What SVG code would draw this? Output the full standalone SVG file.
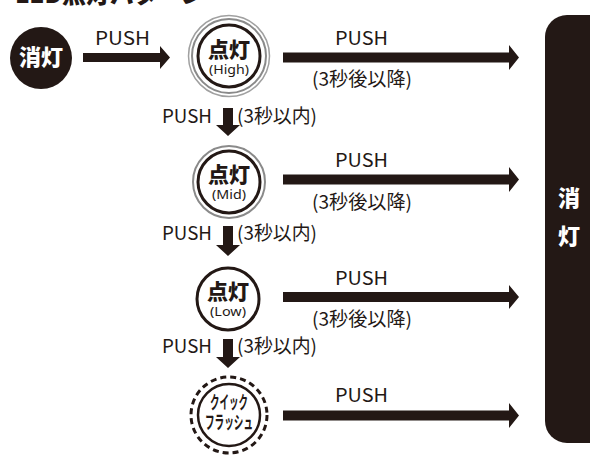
<svg xmlns="http://www.w3.org/2000/svg" width="590" height="466" viewBox="0 0 590 466">
<style>
.lbl{font-family:"Noto Sans CJK JP","Noto Sans",sans-serif;font-size:19px;fill:#231815;font-weight:400}
.kan{font-family:"Noto Sans CJK JP",sans-serif;font-weight:900;fill:#231815;font-size:21px;text-anchor:middle}
.sub{font-family:"Noto Sans","Liberation Sans",sans-serif;font-size:12.5px;fill:#231815;text-anchor:middle}
.wk{font-family:"Noto Sans CJK JP",sans-serif;font-weight:900;fill:#fff;text-anchor:middle}
.ring{fill:#fff;stroke:#231815;stroke-width:3}
.arr{fill:#231815}
.qf{font-family:"Noto Sans CJK JP",sans-serif;font-weight:700;font-size:18px;fill:#231815;text-anchor:middle}
</style>
<rect width="590" height="466" fill="#fff"/>
<text x="15" y="3" font-family="'Noto Sans CJK JP',sans-serif" font-weight="900" font-size="24" fill="#231815">LED点灯パターン</text>

<g id="off">
<circle cx="41" cy="58" r="31" fill="#231815"/>
<text class="wk" x="41" y="65" font-size="22">消灯</text>
</g>

<g id="high">
<circle cx="229" cy="56" r="40.5" fill="#fff" stroke="#a0a0a0" stroke-width="1.5"/>
<circle cx="229" cy="56" r="37" fill="none" stroke="#8a8a8a" stroke-width="2"/>
<circle class="ring" cx="229" cy="56" r="31"/>
<text class="kan" x="229" y="57">点灯</text>
<text class="sub" x="229" y="74" textLength="40" lengthAdjust="spacingAndGlyphs">(High)</text>
</g>

<g id="mid">
<circle cx="229" cy="182" r="36" fill="#fff" stroke="#8a8a8a" stroke-width="2"/>
<circle class="ring" cx="229" cy="182" r="31"/>
<text class="kan" x="229" y="182">点灯</text>
<text class="sub" x="229" y="199" textLength="34" lengthAdjust="spacingAndGlyphs">(Mid)</text>
</g>

<g id="low">
<circle class="ring" cx="228" cy="299" r="31"/>
<text class="kan" x="228" y="299">点灯</text>
<text class="sub" x="228" y="316" textLength="36" lengthAdjust="spacingAndGlyphs">(Low)</text>
</g>

<g id="quick">
<circle cx="229" cy="415" r="38" fill="#fff" stroke="#231815" stroke-width="3" stroke-dasharray="6 4"/>
<circle cx="229" cy="415" r="31" fill="#fff" stroke="#231815" stroke-width="2.5"/>
<text class="qf" x="229" y="409" textLength="38" lengthAdjust="spacingAndGlyphs">クイック</text>
<text class="qf" x="229" y="429" textLength="48" lengthAdjust="spacingAndGlyphs">フラッシュ</text>
</g>

<g id="offbar">
<rect x="545" y="15" width="70" height="428" rx="22" ry="22" fill="#231815"/>
<text class="wk" x="569" y="206" font-size="22">消</text>
<text class="wk" x="569" y="244" font-size="22">灯</text>
</g>

<g id="connectors">
<path class="arr" d="M83 53 H160 V46 L170 57.5 L160 69 V62 H83 Z"/>
<path class="arr" d="M283 52.5 H509 V45 L519 57.5 L509 70 V62.5 H283 Z"/>
<path class="arr" d="M283 174.5 H509 V167 L519 179.5 L509 192 V184.5 H283 Z"/>
<path class="arr" d="M283 292 H509 V285 L519 297 L509 309 V302 H283 Z"/>
<path class="arr" d="M283 410.5 H509 V403 L519 415.5 L509 428 V420.5 H283 Z"/>
<path class="arr" d="M223 108 H233 V125 H240 L228 136 L216 125 H223 Z"/>
<path class="arr" d="M223 226 H233 V245 H240 L228 256 L216 245 H223 Z"/>
<path class="arr" d="M223 339 H233 V357 H240 L228 368 L216 357 H223 Z"/>
</g>

<g id="labels">
<text class="lbl" x="95" y="45" textLength="55" lengthAdjust="spacingAndGlyphs">PUSH</text>
<text class="lbl" x="335" y="45" textLength="53" lengthAdjust="spacingAndGlyphs">PUSH</text>
<text class="lbl" x="312" y="86" textLength="100" lengthAdjust="spacingAndGlyphs">(3秒後以降)</text>
<text class="lbl" x="335" y="167" textLength="53" lengthAdjust="spacingAndGlyphs">PUSH</text>
<text class="lbl" x="312" y="209" textLength="100" lengthAdjust="spacingAndGlyphs">(3秒後以降)</text>
<text class="lbl" x="335" y="285" textLength="53" lengthAdjust="spacingAndGlyphs">PUSH</text>
<text class="lbl" x="312" y="326" textLength="100" lengthAdjust="spacingAndGlyphs">(3秒後以降)</text>
<text class="lbl" x="335" y="402" textLength="53" lengthAdjust="spacingAndGlyphs">PUSH</text>
<text class="lbl" x="162" y="123" textLength="50" lengthAdjust="spacingAndGlyphs">PUSH</text>
<text class="lbl" x="237" y="123" textLength="80" lengthAdjust="spacingAndGlyphs">(3秒以内)</text>
<text class="lbl" x="162" y="240" textLength="50" lengthAdjust="spacingAndGlyphs">PUSH</text>
<text class="lbl" x="237" y="240" textLength="80" lengthAdjust="spacingAndGlyphs">(3秒以内)</text>
<text class="lbl" x="162" y="353" textLength="50" lengthAdjust="spacingAndGlyphs">PUSH</text>
<text class="lbl" x="237" y="353" textLength="80" lengthAdjust="spacingAndGlyphs">(3秒以内)</text>
</g>
</svg>
